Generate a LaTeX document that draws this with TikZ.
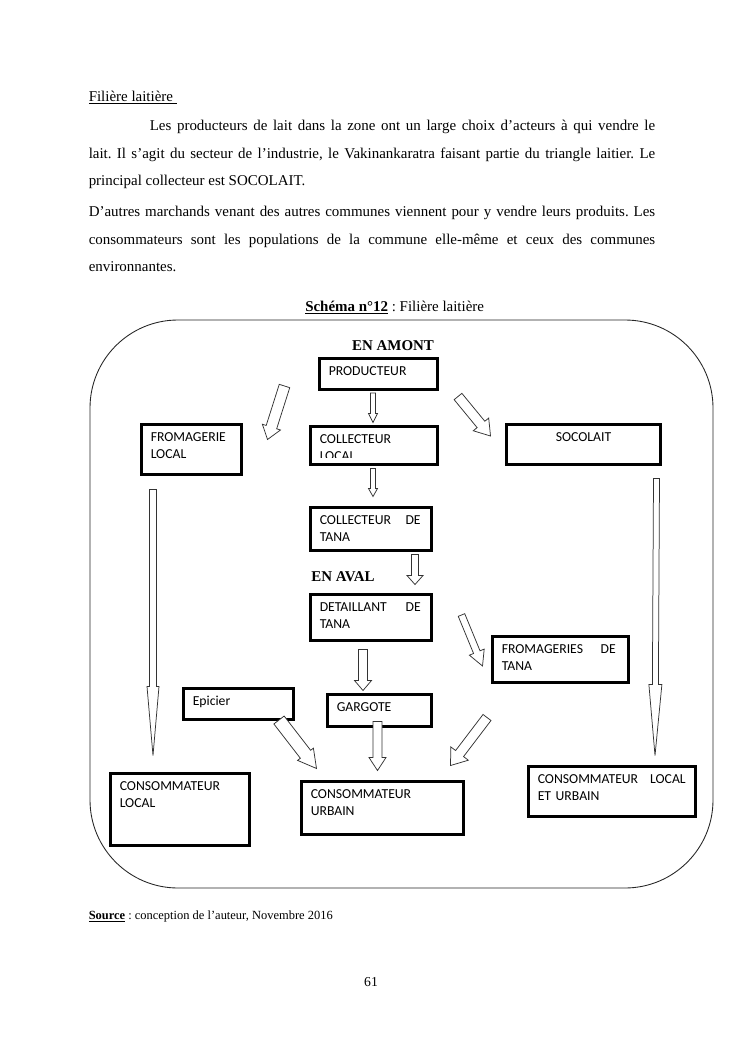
\documentclass[tikz,border=0pt]{standalone}
\usepackage{fontspec}
\setmainfont{Liberation Serif}
\newfontfamily\calibri{Carlito}
\usetikzlibrary{calc,fit}
\frenchspacing

\tikzset{
  boite/.style={draw, line width=2.4pt, inner sep=0pt},
  etiq/.style={font=\calibri\fontsize{11}{13.5}\selectfont, inner sep=0pt, anchor=base west,
    text width=120pt, align=left},
  fl/.style={draw=black!80, line width=0.6pt, fill=white, line join=miter},
  texte/.style={inner sep=0pt, anchor=base west, text width=454.5pt, align=justify,
    font=\fontsize{12}{21.9}\selectfont},
  titre/.style={inner sep=0pt, font=\fontsize{12}{14}\selectfont},
  etape/.style={inner sep=0pt, anchor=base, font=\fontsize{12}{14}\selectfont\bfseries},
}

% fleche creuse : queue, pointe, largeur du corps, largeur de la tete, longueur de la tete (px)
\newcommand{\fleche}[5]{%
  \coordinate (fa) at (#1);
  \coordinate (fb) at (#2);
  \coordinate (fh) at ($(fb)!#5*0.8023pt!(fa)$);
  \draw[fl] ($(fa)!#3*0.4011pt!90:(fb)$) -- ($(fh)!#3*0.4011pt!90:(fb)$)
    -- ($(fh)!#4*0.4011pt!90:(fb)$) -- (fb) -- ($(fh)!#4*0.4011pt!-90:(fb)$)
    -- ($(fh)!#3*0.4011pt!-90:(fb)$) -- ($(fa)!#3*0.4011pt!-90:(fb)$) -- cycle;
}

\begin{document}
\begin{tikzpicture}[x=0.8023pt, y=-0.8023pt]
  \fill[white] (0,0) rectangle (745,1053);
  \useasboundingbox (0,0) rectangle (745,1053);

  % texte de la page
  \node[titre, anchor=base west] (titre) at (88.5,101.5) {\underline{Filière laitière\ }};
  \node[texte] (par1) at (88.5,131) {\hspace*{49pt}Les producteurs de lait dans la zone ont un large choix d’acteurs à qui vendre le\linebreak
    lait. Il s’agit du secteur de l’industrie, le Vakinankaratra faisant partie du triangle laitier. Le\linebreak
    principal collecteur est SOCOLAIT.};
  \node[texte] (par2) at (88.5,217) {D’autres marchands venant des autres communes viennent pour y vendre leurs produits. Les\linebreak
    consommateurs sont les populations de la commune elle-même et ceux des communes\linebreak
    environnantes.};
  \node[titre, anchor=base west] (schema) at (305,311) {\textbf{\underline{Schéma n°12}} : Filière laitière};

  % cadre
  \draw[draw=black!85, line width=0.7pt, rounded corners=70.6pt] (90,320) rectangle (713,888);

  \node[etape] (amont) at (393,350) {EN AMONT};
  \node[etape] (aval) at (343,581) {EN AVAL};

  % boites
  \node[boite, fit={(319.5,358.5) (437.5,389.5)}] (prod) {};
  \node[boite, fit={(141.5,424.5) (241.5,474.5)}] (fromloc) {};
  \node[boite, fit={(310.5,426.5) (437.5,464.5)}] (colloc) {};
  \node[boite, fit={(310.5,507.5) (431.5,550.5)}] (coltana) {};
  \node[boite, fit={(506.5,424.5) (660.5,464.5)}] (socolait) {};
  \node[boite, fit={(310.5,594.5) (431.5,640.5)}] (detail) {};
  \node[boite, fit={(492.5,636.5) (628.5,682.5)}] (fromtana) {};
  \node[boite, fit={(183.5,688.5) (293.5,719.5)}] (epicier) {};
  \node[boite, fit={(327.5,694.5) (431.5,726.5)}] (gargote) {};
  \node[boite, fit={(110.5,773.5) (249.5,845.5)}] (conloc) {};
  \node[boite, fit={(301.5,781.5) (463.5,834.5)}] (conurb) {};
  \node[boite, fit={(528.5,766.5) (695.5,816.5)}] (conlu) {};

  % textes des boites
  \node[etiq] (prod-t) at ($(prod.north west)+(10.5,18.5)$) {PRODUCTEUR};
  \node[etiq] (fromloc-t) at ($(fromloc.north west)+(10.5,18.5)$) {FROMAGERIE\\LOCAL};
  \begin{scope}
    \clip (309,425) rectangle (439,457);
    \node[etiq] (colloc-t) at ($(colloc.north west)+(10.5,18.5)$) {COLLECTEUR\\LOCAL};
  \end{scope}
  \node[etiq, text width=81pt] (coltana-t) at ($(coltana.north west)+(10.5,18.5)$) {COLLECTEUR\hfill DE\\TANA};
  \node[etiq, text width=, align=center, anchor=base] (socolait-t) at ($(socolait.north)+(0,18.5)$) {SOCOLAIT};
  \node[etiq, text width=81pt] (detail-t) at ($(detail.north west)+(10.5,18.5)$) {DETAILLANT\hfill DE\\TANA};
  \node[etiq, text width=91.5pt] (fromtana-t) at ($(fromtana.north west)+(10.5,18.5)$) {FROMAGERIES\hfill DE\\TANA};
  \node[etiq] (epicier-t) at ($(epicier.north west)+(10.5,18.5)$) {Epicier};
  \node[etiq] (gargote-t) at ($(gargote.north west)+(10.5,18.5)$) {GARGOTE};
  \node[etiq] (conloc-t) at ($(conloc.north west)+(10.5,18.5)$) {CONSOMMATEUR\\LOCAL};
  \node[etiq] (conurb-t) at ($(conurb.north west)+(10.5,18.5)$) {CONSOMMATEUR\\URBAIN};
  \node[etiq, text width=118.7pt] (conlu-t) at ($(conlu.north west)+(10.5,18.5)$) {CONSOMMATEUR\hfill LOCAL\\ET URBAIN};

  % fleches
  \fleche{$(prod.south)+(-5.5,2)$}{$(colloc.north)+(-1,-2.5)$}{5}{9}{9}
  \fleche{$(colloc.south)+(-1,2.5)$}{$(coltana.north)+(2,-9.5)$}{5}{9}{8}
  \fleche{$(coltana.south)+(44,2.5)$}{$(detail.north)+(44,-8.5)$}{7}{16}{9}
  \fleche{$(detail.south)+(-8,7.5)$}{$(gargote.north)+(-16.5,-2.5)$}{9}{17}{10}
  \fleche{$(gargote.south)+(-2,-6.5)$}{$(conurb.north)+(-5,-9.5)$}{9}{17}{13}
  \fleche{$(prod.west)+(-33.5,12)$}{$(fromloc.north east)+(24.5,16.5)$}{11}{19}{13}
  \fleche{$(prod.east)+(19,22.5)$}{$(socolait.west)+(-14.5,-8.5)$}{10}{20}{15}
  \fleche{$(detail.east)+(28.5,-2.5)$}{$(fromtana.west)+(-8.5,6.5)$}{7}{16}{15}
  \fleche{$(fromtana.south)+(-73.5,33.5)$}{$(conurb.north east)+(-14.5,-14.5)$}{10}{22}{15}
  \fleche{$(epicier.south east)+(-16,-1)$}{$(conurb.north west)+(16.5,-11.5)$}{13}{20}{18}
  \fleche{$(fromloc.south)+(-38.5,13.5)$}{$(conloc.north)+(-27,-16.5)$}{7}{12}{69}
  \fleche{$(socolait.south east)+(-5.5,12.5)$}{$(conlu.north)+(43,-9.5)$}{6}{13}{71}

  % bas de page
  \node[inner sep=0pt, anchor=base west, font=\fontsize{10}{12}\selectfont] (source) at (88.5,919) {\textbf{\underline{Source}} : conception de l’auteur, Novembre 2016};
  \node[inner sep=0pt, anchor=base, font=\fontsize{11}{13}\selectfont] (page) at (371,986) {61};
\end{tikzpicture}
\end{document}
